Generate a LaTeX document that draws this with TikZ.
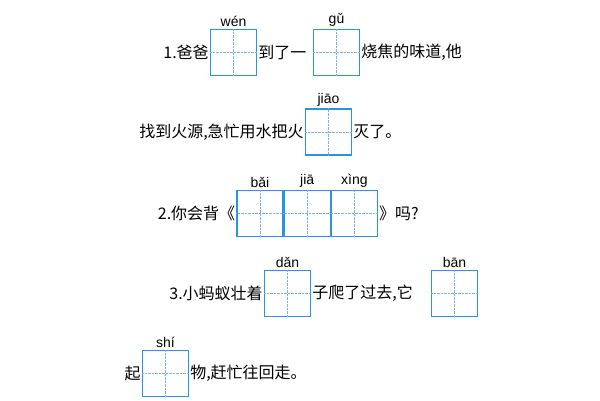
\documentclass[tikz,border=0pt]{standalone}
\usepackage{fontspec}
\usetikzlibrary{positioning}
\newfontfamily\cjk{Noto Sans CJK SC}
\newfontfamily\py{Liberation Sans}
\definecolor{gridblue}{RGB}{40,150,220}
\definecolor{dotblue}{RGB}{120,180,230}
\tikzset{
  zige/.style={draw=gridblue,line width=1.2pt,minimum size=46pt,inner sep=0pt},
  hanzi/.style={font=\cjk\fontsize{16}{16}\selectfont,inner sep=1pt},
  pinyin/.style={font=\py\fontsize{14}{14}\selectfont,inner sep=1pt,above=1pt}
}
\newcommand{\zigeline}[1]{%
  \draw[dotblue,densely dotted] (#1.north) -- (#1.south);
  \draw[dotblue,densely dotted] (#1.west) -- (#1.east);}
\begin{document}
\begin{tikzpicture}[x=1pt,y=-1pt]
        \useasboundingbox (0,0) rectangle (600,400);
        % line 1
        \node[zige] (wen) at (233.5,52.5) {};
        \node[zige] (gu) at (336.5,52.5) {};
        \node[hanzi,anchor=east] (t1a) at (wen.west) {1.爸爸};
        \node[hanzi,anchor=west] (t1b) at (wen.east) {到了一};
        \node[hanzi,anchor=west] (t1c) at (gu.east) {烧焦的味道,他};
        \node[pinyin] at (wen.north) {wén};
        \node[pinyin] at (gu.north) {gǔ};
        % line 2
        \node[zige] (jiao) at (328.5,132) {};
        \node[hanzi,anchor=east] (t2a) at (jiao.west) {找到火源,急忙用水把火};
        \node[hanzi,anchor=west] (t2b) at (jiao.east) {灭了。};
        \node[pinyin] at (jiao.north) {jiāo};
        % line 3
        \node[zige] (bai) at (260,213.5) {};
        \node[zige,right=0pt of bai] (jia) {};
        \node[zige,right=0pt of jia] (xing) {};
        \node[hanzi,anchor=east] (t3a) at (bai.west) {2.你会背《};
        \node[hanzi,anchor=west] (t3b) at (xing.east) {》吗?};
        \node[pinyin] at (bai.north) {bǎi};
        \node[pinyin] at (jia.north) {jiā};
        \node[pinyin] at (xing.north) {xìng};
        % line 4
        \node[zige] (dan) at (287.5,293.5) {};
        \node[zige] (ban) at (454.5,293.5) {};
        \node[hanzi,anchor=east] (t4a) at (dan.west) {3.小蚂蚁壮着};
        \node[hanzi,anchor=west] (t4b) at (dan.east) {子爬了过去,它};
        \node[pinyin] at (dan.north) {dǎn};
        \node[pinyin] at (ban.north) {bān};
        % line 5
        \node[zige] (shi) at (165.5,373.5) {};
        \node[hanzi,anchor=east] (t5a) at (shi.west) {起};
        \node[hanzi,anchor=west] (t5b) at (shi.east) {物,赶忙往回走。};
        \node[pinyin] at (shi.north) {shí};
        % dotted middle lines
        \foreach \b in {wen,gu,jiao,bai,jia,xing,dan,ban,shi}
          {\zigeline{\b}}
\end{tikzpicture}
\end{document}
